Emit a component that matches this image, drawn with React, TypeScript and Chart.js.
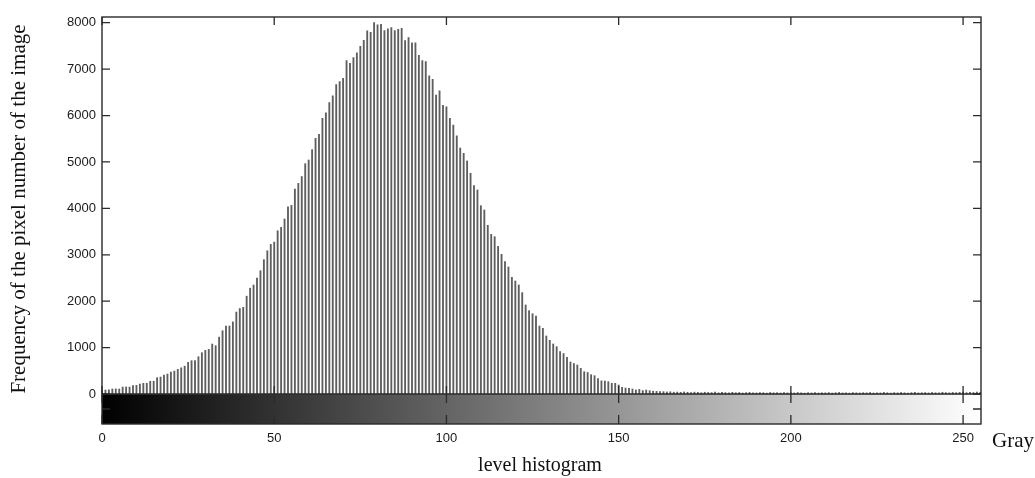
import React, { useEffect, useRef } from "react";
import { Chart, registerables } from "chart.js";

Chart.register(...registerables);

// Pixel counts for gray levels 0..255
const pixelCounts: number[] = [
  70, 86, 90, 108, 110, 108, 150, 152, 150, 180,
  187, 215, 230, 232, 273, 275, 352, 366, 409, 431,
  474, 495, 531, 565, 600, 682, 718, 722, 804, 890,
  940, 962, 1077, 1041, 1225, 1364, 1465, 1465, 1554, 1766,
  1842, 1867, 2108, 2280, 2348, 2499, 2657, 2894, 3087, 3224,
  3274, 3518, 3590, 3770, 4035, 4064, 4416, 4538, 4686, 4962,
  5042, 5265, 5510, 5596, 5941, 6056, 6278, 6422, 6666, 6731,
  6803, 7183, 7126, 7248, 7349, 7492, 7621, 7823, 7794, 8002,
  7952, 7967, 7830, 7866, 7895, 7830, 7859, 7880, 7614, 7679,
  7564, 7564, 7298, 7183, 7162, 6853, 6781, 6443, 6530, 6221,
  6185, 5941, 5797, 5563, 5300, 5186, 5021, 4755, 4490, 4396,
  4058, 3965, 3635, 3441, 3390, 3182, 3010, 2852, 2737, 2514,
  2435, 2349, 2184, 1918, 1796, 1731, 1681, 1465, 1415, 1250,
  1156, 1078, 1020, 915, 872, 790, 690, 657, 625, 553,
  481, 464, 416, 395, 334, 284, 280, 266, 230, 230,
  194, 144, 129, 122, 108, 88, 100, 74, 86, 72,
  60, 57, 55, 50, 45, 48, 40, 42, 36, 44,
  38, 30, 40, 35, 28, 38, 33, 30, 42, 26,
  34, 30, 25, 36, 28, 32, 22, 30, 35, 27,
  24, 31, 28, 20, 33, 26, 29, 22, 30, 25,
  28, 23, 32, 26, 20, 29, 24, 31, 22, 27,
  25, 30, 21, 28, 34, 24, 27, 20, 30, 26,
  23, 29, 25, 32, 22, 28, 24, 35, 27, 21,
  30, 25, 33, 26, 22, 29, 36, 24, 28, 31,
  23, 34, 27, 25, 38, 30, 26, 33, 29, 35,
  40, 28, 36, 31, 42, 38,
];

const xTickValues: number[] = [0, 50, 100, 150, 200, 250];
const yTickValues: number[] = [0, 1000, 2000, 3000, 4000, 5000, 6000, 7000, 8000];
const yAxisTitle = "Frequency of the pixel number of the image";
const xAxisTitle = "level histogram";
const xAxisSideLabel = "Gray";

const X_MIN = 0;
const X_MAX = 255.2;
const Y_MIN = -646;
const Y_MAX = 8123;

const decorations = {
  id: "decorations",
  beforeDatasetsDraw(chart: any) {
    const { ctx, chartArea, scales } = chart;
    const xs = scales.x;
    const ys = scales.y;
    const y0 = ys.getPixelForValue(0);
    const grad = ctx.createLinearGradient(xs.getPixelForValue(0), 0, xs.getPixelForValue(255), 0);
    grad.addColorStop(0, "#000000");
    grad.addColorStop(1, "#ffffff");
    ctx.save();
    ctx.fillStyle = grad;
    ctx.fillRect(chartArea.left, y0, chartArea.right - chartArea.left, chartArea.bottom - y0);
    ctx.restore();
  },
  afterDatasetsDraw(chart: any) {
    const { ctx, chartArea, scales } = chart;
    const xs = scales.x;
    const ys = scales.y;
    const { left, right, top, bottom } = chartArea;
    const y0 = ys.getPixelForValue(0);
    const tl = 8;
    ctx.save();
    ctx.strokeStyle = "#2a2a2a";
    ctx.lineWidth = 1.4;
    ctx.strokeRect(left, top, right - left, bottom - top);
    ctx.beginPath();
    ctx.moveTo(left, y0);
    ctx.lineTo(right, y0);
    ctx.stroke();
    ctx.lineWidth = 1.3;
    ctx.beginPath();
    for (const v of yTickValues) {
      const py = ys.getPixelForValue(v);
      ctx.moveTo(left, py);
      ctx.lineTo(left + tl, py);
      ctx.moveTo(right, py);
      ctx.lineTo(right - tl, py);
    }
    const mid = (y0 + bottom) / 2;
    ctx.moveTo(left, mid);
    ctx.lineTo(left + tl, mid);
    ctx.moveTo(right, mid);
    ctx.lineTo(right - tl, mid);
    for (const v of xTickValues) {
      const px = xs.getPixelForValue(v);
      ctx.moveTo(px, top);
      ctx.lineTo(px, top + tl);
      ctx.moveTo(px, y0);
      ctx.lineTo(px, y0 - tl);
      ctx.moveTo(px, y0);
      ctx.lineTo(px, y0 + tl + 1);
      ctx.moveTo(px, bottom);
      ctx.lineTo(px, bottom - tl - 1);
    }
    ctx.stroke();
    ctx.restore();
  },
  afterDraw(chart: any) {
    const { ctx } = chart;
    ctx.save();
    ctx.fillStyle = "#111111";
    ctx.font = '21px "Liberation Serif", "Times New Roman", serif';
    ctx.textAlign = "center";
    ctx.textBaseline = "middle";
    ctx.save();
    ctx.translate(19, 209);
    ctx.rotate(-Math.PI / 2);
    ctx.fillText(yAxisTitle, 0, 0);
    ctx.restore();
    ctx.textAlign = "left";
    ctx.fillText(xAxisSideLabel, 992, 441);
    ctx.font = '20px "Liberation Serif", "Times New Roman", serif';
    ctx.textAlign = "center";
    ctx.fillText(xAxisTitle, 540, 466);
    ctx.restore();
  },
};

export default function App() {
  const canvasRef = useRef<HTMLCanvasElement | null>(null);

  useEffect(() => {
    if (!canvasRef.current) return;
    const chart = new Chart(canvasRef.current, {
      type: "bar",
      data: {
        datasets: [
          {
            data: pixelCounts.map((c, i) => ({ x: i, y: c })),
            backgroundColor: "#5e5e5e",
            borderWidth: 0,
            barThickness: 1.2,
          } as any,
        ],
      },
      options: {
        animation: false,
        responsive: false,
        devicePixelRatio: 1,
        layout: { padding: { top: 17, right: 54, left: 0, bottom: 0 } },
        plugins: { legend: { display: false }, tooltip: { enabled: false } },
        scales: {
          x: {
            type: "linear",
            min: X_MIN,
            max: X_MAX,
            offset: false,
            grid: { display: false, drawTicks: false },
            border: { display: false },
            afterBuildTicks: (s: any) => {
              s.ticks = xTickValues.map((v) => ({ value: v }));
            },
            afterFit: (s: any) => {
              s.height = 54;
            },
            ticks: {
              padding: 7,
              maxRotation: 0,
              autoSkip: false,
              color: "#1a1a1a",
              callback: (v: any) => String(v),
              font: { family: '"Liberation Sans", Arial, sans-serif', size: 13 },
            },
          },
          y: {
            type: "linear",
            min: Y_MIN,
            max: Y_MAX,
            grid: { display: false, drawTicks: false },
            border: { display: false },
            afterBuildTicks: (s: any) => {
              s.ticks = yTickValues.map((v) => ({ value: v }));
            },
            afterFit: (s: any) => {
              s.width = 102;
            },
            ticks: {
              padding: 6,
              autoSkip: false,
              color: "#1a1a1a",
              callback: (v: any) => String(v),
              font: { family: '"Liberation Sans", Arial, sans-serif', size: 13 },
            },
          },
        },
      },
      plugins: [decorations],
    });
    return () => chart.destroy();
  }, []);

  return (
    <div style={{ position: "fixed", left: 0, top: 0, width: 1035, height: 478, background: "#ffffff" }}>
      <canvas ref={canvasRef} width={1035} height={478} style={{ display: "block" }} />
    </div>
  );
}
